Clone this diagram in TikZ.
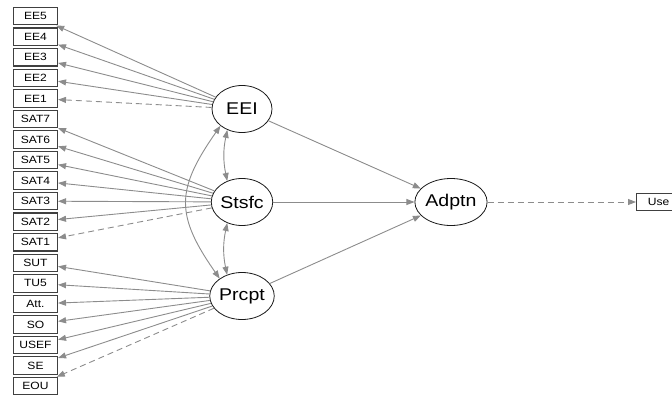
\documentclass[tikz,border=0pt]{standalone}
\usepackage{fontspec}
\setmainfont{Liberation Sans}[FakeStretch=1.15]
\usetikzlibrary{arrows.meta,shapes.geometric}
\definecolor{edgegray}{HTML}{8C8C8C}
\begin{document}
\begin{tikzpicture}[x=1pt,y=1pt,
  ind/.style={draw=black!75, line width=1.1pt, minimum width=44pt, minimum height=17.5pt,
    inner sep=0pt, font=\fontsize{10.5}{12}\selectfont},
  lat/.style={ellipse, draw=black!90, line width=0.8pt, minimum width=60pt, minimum height=47pt,
    inner sep=0pt, font=\fontsize{17}{20}\selectfont},
  tip/.tip={Triangle[length=8pt,width=6pt]},
  ln/.style={draw=edgegray, line width=0.9pt, -tip},
  fixed/.style={ln, dash pattern=on 6pt off 4pt},
  cov/.style={draw=edgegray, line width=0.9pt, tip-tip}
]
\useasboundingbox (0,0) rectangle (672,-396);

% observed indicators, top to bottom
\foreach \nm/\lb [count=\i from 0] in {ee5/EE5, ee4/EE4, ee3/EE3, ee2/EE2, ee1/EE1,
    sat7/SAT7, sat6/SAT6, sat5/SAT5, sat4/SAT4, sat3/SAT3, sat2/SAT2, sat1/SAT1,
    sut/SUT, tu5/TU5, att/Att., so/SO, usef/USEF, se/SE, eou/EOU}
  \node[ind] (\nm) at (35.5, -16.2-20.55*\i) {\lb};

% latent variables
\node[lat] (EEI)   at (242,-109) {EEI};
\node[lat] (Stsfc) at (242,-202) {Stsfc};
\node[lat] (Prcpt) at (242,-296) {Prcpt};
\node[lat] (Adptn) at (451,-202) {Adptn};
\node[ind, anchor=west] (Use) at (636,-202) {Use\hspace{6pt}};

% loadings
\foreach \n in {ee5,ee4,ee3,ee2} \draw[ln] (EEI) -- (\n);
\draw[fixed] (EEI) -- (ee1);
\foreach \n in {sat7,sat6,sat5,sat4,sat3,sat2} \draw[ln] (Stsfc) -- (\n);
\draw[fixed] (Stsfc) -- (sat1);
\foreach \n in {sut,tu5,att,so,usef,se} \draw[ln] (Prcpt) -- (\n);
\draw[fixed] (Prcpt) -- (eou);

% structural paths
\draw[ln] (EEI) -- (Adptn);
\draw[ln] (Stsfc) -- (Adptn);
\draw[ln] (Prcpt) -- (Adptn);
\draw[fixed] (Adptn) -- (Use);

% covariances
\draw[cov] (EEI.235) to[bend right=12] (Stsfc.125);
\draw[cov] (Stsfc.235) to[bend right=12] (Prcpt.125);
\draw[cov] (EEI.218) to[out=235,in=125,looseness=1.3] (Prcpt.142);
\end{tikzpicture}
\end{document}
